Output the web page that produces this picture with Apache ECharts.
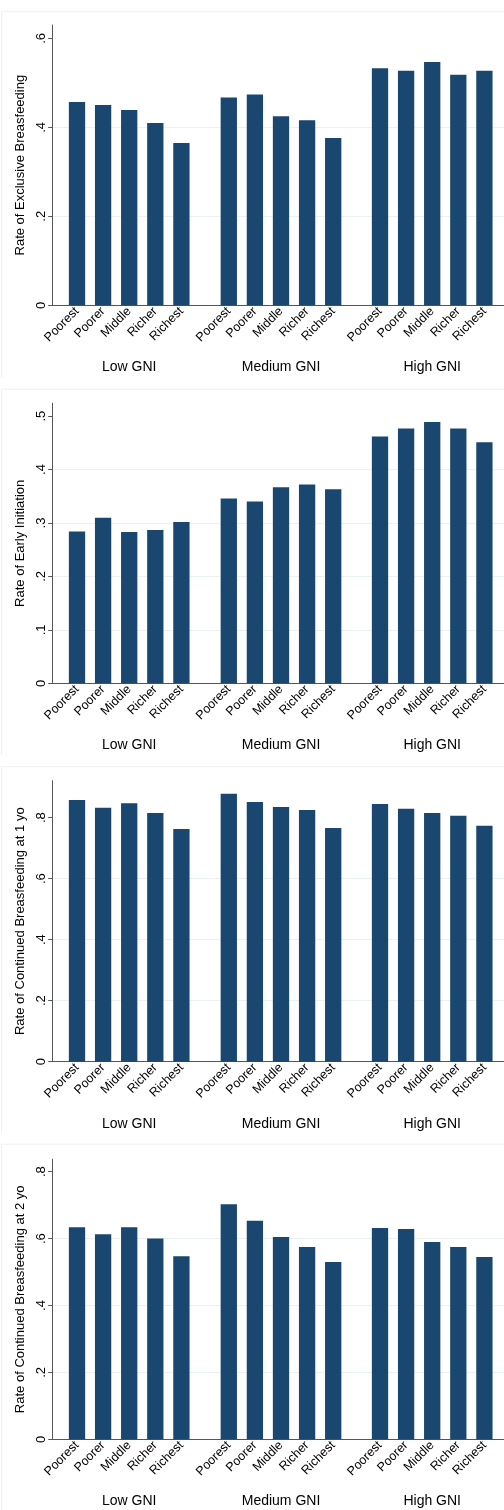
<!DOCTYPE html>
<html>
<head>
<meta charset="utf-8">
<script src="https://cdn.jsdelivr.net/npm/echarts@6/dist/echarts.min.js"></script>
<style>
html,body{margin:0;padding:0;background:#fff;}
#chart{width:504px;height:1510px;}
</style>
</head>
<body>
<div id="chart"></div>
<script>
// ---- data ----
const quintiles = ['Poorest', 'Poorer', 'Middle', 'Richer', 'Richest'];
const gniGroups = ['Low GNI', 'Medium GNI', 'High GNI'];
const yTitles = [
  'Rate of Exclusive Breasfeeding',
  'Rate of Early Initiation',
  'Rate of Continued Breasfeeding at 1 yo',
  'Rate of Continued Breasfeeding at 2 yo'
];
// values: Low GNI (5), Medium GNI (5), High GNI (5)
const exclusiveBF   = [0.457, 0.450, 0.439, 0.410, 0.365,  0.467, 0.474, 0.425, 0.416, 0.376,  0.533, 0.527, 0.547, 0.518, 0.527];
const earlyInit     = [0.284, 0.310, 0.283, 0.287, 0.302,  0.346, 0.340, 0.367, 0.372, 0.363,  0.462, 0.477, 0.489, 0.477, 0.451];
const continued1yo  = [0.858, 0.832, 0.847, 0.815, 0.763,  0.878, 0.851, 0.835, 0.825, 0.766,  0.845, 0.829, 0.815, 0.806, 0.773];
const continued2yo  = [0.634, 0.613, 0.634, 0.600, 0.547,  0.703, 0.653, 0.605, 0.575, 0.530,  0.632, 0.629, 0.590, 0.575, 0.545];
const yTicks1 = [0, 0.2, 0.4, 0.6];
const yTicks2 = [0, 0.1, 0.2, 0.3, 0.4, 0.5];
const yTicks3 = [0, 0.2, 0.4, 0.6, 0.8];
const yTicks4 = [0, 0.2, 0.4, 0.6, 0.8];
const yMaxes  = [0.63, 0.524, 0.921, 0.837];

const panelValues = [exclusiveBF, earlyInit, continued1yo, continued2yo];
const panelTicks = [yTicks1, yTicks2, yTicks3, yTicks4];

// ---- layout ----
const FONT = '"Liberation Sans", Arial, Helvetica, sans-serif';
const panelTop  = [25, 403.3, 780.7, 1159.3];
const panelBase = [305.3, 683.3, 1061.7, 1439.3];
const plotLeft = 52.7;
const groupLeft = [63.95, 215.75, 366.95];
const groupWidth = 130.5;
const barColor = '#1a476f';
const axisColor = '#555555';

const fmt = v => (v === 0 ? '0' : String(+v.toFixed(2)).replace(/^0/, ''));

const grids = [], xAxes = [], yAxes = [], series = [], graphics = [];

panelValues.forEach((vals, k) => {
  const top = panelTop[k];
  const h = panelBase[k] - panelTop[k];
  const ticks = panelTicks[k];
  const step = ticks[1] - ticks[0];

  // base grid: y axis, gridlines, x axis line
  grids.push({ left: plotLeft, right: 0, top: top, height: h, containLabel: false });
  const gi = grids.length - 1;
  xAxes.push({
    gridIndex: gi, type: 'value', min: 0, max: 1,
    axisLine: { show: true, onZero: false, lineStyle: { color: axisColor, width: 1 } },
    axisTick: { show: false }, axisLabel: { show: false }, splitLine: { show: false }
  });
  yAxes.push({
    gridIndex: gi, type: 'value', min: 0, max: yMaxes[k], interval: step,
    name: yTitles[k], nameLocation: 'middle', nameGap: 18,
    nameTextStyle: { fontSize: 13, color: '#000', fontFamily: FONT },
    axisLine: { show: true, lineStyle: { color: axisColor, width: 1 } },
    axisTick: { show: true, length: 4.5, customValues: ticks, lineStyle: { color: axisColor } },
    axisLabel: { customValues: ticks, rotate: 90, fontSize: 13, color: '#000', fontFamily: FONT, margin: 5,
      formatter: v => (ticks.some(t => Math.abs(t - v) < 1e-9) ? fmt(v) : '') },
    splitLine: { show: true, showMinLine: false, showMaxLine: false, lineStyle: { color: '#eaf2f3', width: 1 } }
  });

  // group grids with bars
  gniGroups.forEach((g, j) => {
    grids.push({ left: groupLeft[j], width: groupWidth, top: top, height: h, containLabel: false });
    const idx = grids.length - 1;
    xAxes.push({
      gridIndex: idx, type: 'category', data: quintiles,
      axisLine: { show: false }, axisTick: { show: false }, splitLine: { show: false },
      axisLabel: { rotate: 45, interval: 0, fontSize: 12.5, color: '#000', fontFamily: FONT, margin: 4 },
      name: g, nameLocation: 'middle', nameGap: 55,
      nameTextStyle: { fontSize: 14, color: '#000', fontFamily: FONT }
    });
    yAxes.push({ gridIndex: idx, type: 'value', min: 0, max: yMaxes[k], show: false, splitLine: { show: false } });
    series.push({
      type: 'bar', xAxisIndex: idx, yAxisIndex: idx,
      data: vals.slice(j * 5, j * 5 + 5),
      barWidth: 16.3,
      itemStyle: { color: barColor },
      silent: true
    });
  });

  // faint panel outline (top and left)
  const pTop = k * 377.5 + 11.7;
  graphics.push({ type: 'line', shape: { x1: 1.5, y1: pTop, x2: 504, y2: pTop }, style: { stroke: '#eef1f3', lineWidth: 1 }, silent: true });
  graphics.push({ type: 'line', shape: { x1: 1.5, y1: pTop, x2: 1.5, y2: pTop + 366 }, style: { stroke: '#eef1f3', lineWidth: 1 }, silent: true });
});

const chart = echarts.init(document.getElementById('chart'), null, { renderer: 'canvas' });
chart.setOption({
  animation: false,
  backgroundColor: '#ffffff',
  textStyle: { fontFamily: FONT },
  grid: grids,
  xAxis: xAxes,
  yAxis: yAxes,
  series: series,
  graphic: graphics
});
</script>
</body>
</html>
